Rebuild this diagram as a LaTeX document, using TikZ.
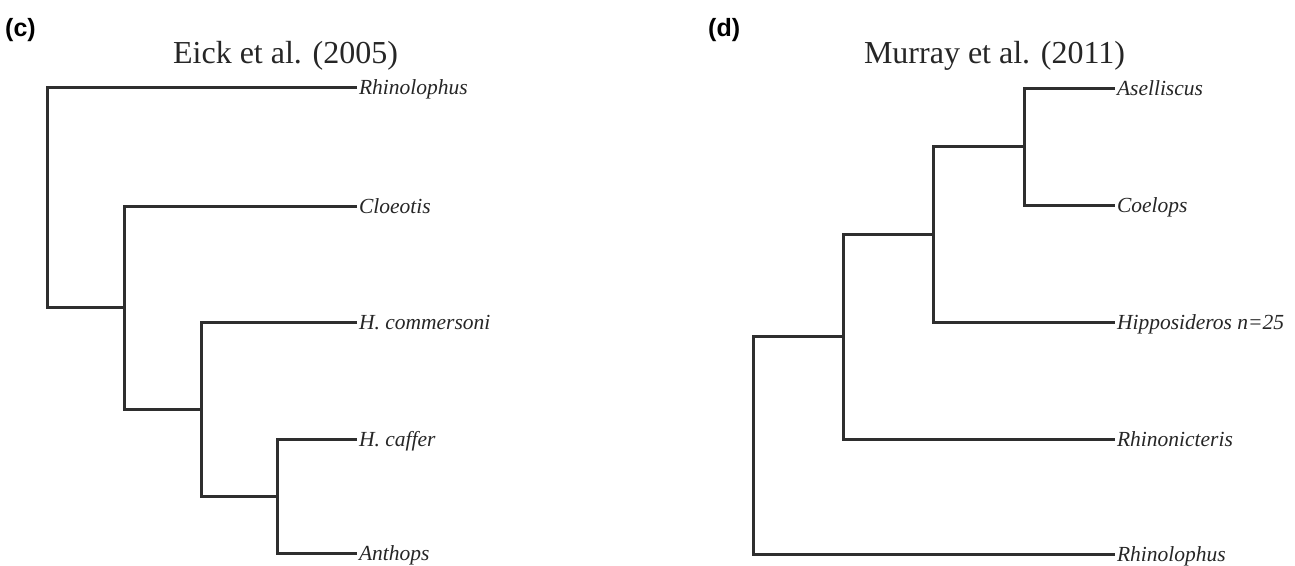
\documentclass[tikz,border=0pt]{standalone}
\usepackage{fontspec}
\setmainfont{Liberation Serif}
\newfontfamily\arialfont{Liberation Sans}
\begin{document}
\begin{tikzpicture}[x=1pt,y=-1pt,
  branch/.style={draw=black!82, line width=3pt, line join=miter},
  lab/.style={anchor=west, inner xsep=2pt, inner ysep=0pt, outer sep=0pt,
    text height=14pt, text depth=0pt, text=black!85,
    font=\fontsize{21.5}{26}\selectfont\itshape},
  ttl/.style={anchor=base, inner sep=0pt, text=black!85,
    font=\fontsize{32}{38}\selectfont},
  panel/.style={anchor=base west, inner sep=0pt, text=black,
    font=\arialfont\fontsize{25}{30}\selectfont\bfseries}]
\useasboundingbox (0,0) rectangle (1295,565);

% ---------- panel (c) ----------
\node[panel] (pc) at (5,36) {(c)};
\node[ttl] (tc) at (285.5,63) {Eick et al. (2005)};

\node[lab] (cRhino) at (357,87) {Rhinolophus};
\node[lab] (cCloe) at (357,206) {Cloeotis};
\node[lab] (cComm) at (357,322) {H. commersoni};
\node[lab] (cCaff) at (357,439) {H. caffer};
\node[lab] (cAnth) at (357,553) {Anthops};

\coordinate (c4) at (277,496);
\coordinate (c3) at (201,409);
\coordinate (c2) at (124,307.5);
\coordinate (c1) at (47,197.25);

\draw[branch] (cCaff.west) -| (c4) |- (cAnth.west);
\draw[branch] (cComm.west) -| (c3) |- (c4);
\draw[branch] (cCloe.west) -| (c2) |- (c3);
\draw[branch] (cRhino.west) -| (c1) |- (c2);

% ---------- panel (d) ----------
\node[panel] (pd) at (708,36) {(d)};
\node[ttl] (td) at (994.5,63) {Murray et al. (2011)};

\node[lab] (dAsel) at (1115,88) {Aselliscus};
\node[lab] (dCoel) at (1115,205) {Coelops};
\node[lab] (dHipp) at (1115,322) {Hipposideros n=25};
\node[lab] (dRhinon) at (1115,439) {Rhinonicteris};
\node[lab] (dRhinol) at (1115,554) {Rhinolophus};

\coordinate (d4) at (1024,146.5);
\coordinate (d3) at (933,234);
\coordinate (d2) at (843,336.5);
\coordinate (d1) at (753,445);

\draw[branch] (dAsel.west) -| (d4) |- (dCoel.west);
\draw[branch] (d4) -| (d3) |- (dHipp.west);
\draw[branch] (d3) -| (d2) |- (dRhinon.west);
\draw[branch] (d2) -| (d1) |- (dRhinol.west);
\end{tikzpicture}
\end{document}
